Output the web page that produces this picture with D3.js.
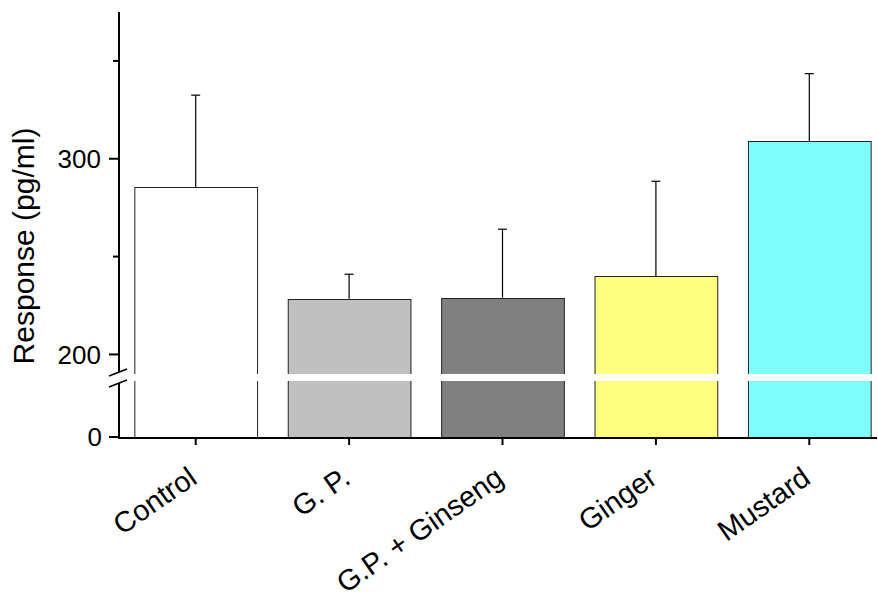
<!DOCTYPE html>
<html>
<head>
<meta charset="utf-8">
<script src="https://cdn.jsdelivr.net/npm/d3@7"></script>
<style>
  body { margin: 0; background: #fff; }
  text { font-family: Arial, "Liberation Sans", sans-serif; fill: #000; }
</style>
</head>
<body>
<svg id="chart" width="878" height="601"></svg>
<script>
// data
var groups = ["Control", "G. P.", "G.P. + Ginseng", "Ginger", "Mustard"];
var means  = [285.5, 228.5, 229, 240, 309];
var errs   = [47, 12.5, 35, 48.5, 34.5];
var fills  = ["#ffffff", "#c0c0c0", "#808080", "#ffff80", "#80ffff"];
var upperTicks = [200, 300];
var minorTicks = [250, 350];
var lowerTicks = [0];

var svg = d3.select("#chart");

var x0 = 119, baseY = 437, breakTop = 374, breakBot = 381;

var x = d3.scaleBand()
    .domain(groups)
    .range([x0, 886])
    .paddingInner(0.2)
    .paddingOuter(0.1);

// broken axis: upper segment and lower segment
var yUp = d3.scaleLinear().domain([190, 375]).range([breakTop, 12]);
var yLo = d3.scaleLinear().domain([0, 15]).range([baseY, breakBot]);

var bars = svg.append("g");

// error bars first (behind bar outline)
bars.selectAll("line.err")
  .data(groups)
  .enter().append("line")
    .attr("x1", function(d){ return x(d) + x.bandwidth()/2; })
    .attr("x2", function(d){ return x(d) + x.bandwidth()/2; })
    .attr("y1", function(d,i){ return yUp(means[i]); })
    .attr("y2", function(d,i){ return yUp(means[i] + errs[i]); })
    .attr("stroke", "#000").attr("stroke-width", 1.2);

bars.selectAll("line.cap")
  .data(groups)
  .enter().append("line")
    .attr("x1", function(d){ return x(d) + x.bandwidth()/2 - 4.5; })
    .attr("x2", function(d){ return x(d) + x.bandwidth()/2 + 4.5; })
    .attr("y1", function(d,i){ return yUp(means[i] + errs[i]); })
    .attr("y2", function(d,i){ return yUp(means[i] + errs[i]); })
    .attr("stroke", "#000").attr("stroke-width", 1.2);

bars.selectAll("rect")
  .data(groups)
  .enter().append("rect")
    .attr("x", function(d){ return x(d) + 0.5; })
    .attr("width", x.bandwidth())
    .attr("y", function(d,i){ return Math.round(yUp(means[i])) + 0.5; })
    .attr("height", function(d,i){ return baseY - Math.round(yUp(means[i])); })
    .attr("fill", function(d,i){ return fills[i]; })
    .attr("stroke", "#222").attr("stroke-width", 1);

// white band at the break
svg.append("rect")
  .attr("x", x0 + 2).attr("y", breakTop)
  .attr("width", 878 - x0).attr("height", breakBot - breakTop)
  .attr("fill", "#fff");

// y axis
var ax = svg.append("g").attr("stroke", "#000");
ax.append("line").attr("x1", x0).attr("x2", x0)
  .attr("y1", yUp.range()[1]).attr("y2", breakTop - 2).attr("stroke-width", 2);
ax.append("line").attr("x1", x0).attr("x2", x0)
  .attr("y1", breakBot + 2).attr("y2", baseY + 1).attr("stroke-width", 2);
// break marks
[breakTop - 3, breakBot + 1].forEach(function(yy){
  ax.append("line")
    .attr("x1", x0 - 10).attr("y1", yy + 5)
    .attr("x2", x0 + 8).attr("y2", yy - 2)
    .attr("stroke-width", 1.6);
});

ax.selectAll("line.maj")
  .data(upperTicks).enter().append("line")
    .attr("x1", x0 - 10).attr("x2", x0)
    .attr("y1", function(d){ return yUp(d); }).attr("y2", function(d){ return yUp(d); })
    .attr("stroke-width", 2);
ax.selectAll("line.min")
  .data(minorTicks).enter().append("line")
    .attr("x1", x0 - 6).attr("x2", x0)
    .attr("y1", function(d){ return yUp(d); }).attr("y2", function(d){ return yUp(d); })
    .attr("stroke-width", 2);
ax.selectAll("line.lo")
  .data(lowerTicks).enter().append("line")
    .attr("x1", x0 - 10).attr("x2", x0)
    .attr("y1", function(d){ return yLo(d); }).attr("y2", function(d){ return yLo(d); })
    .attr("stroke-width", 2);

svg.selectAll("text.ytick")
  .data(upperTicks).enter().append("text")
    .attr("x", x0 - 18).attr("y", function(d){ return yUp(d); })
    .attr("dy", "0.35em").attr("text-anchor", "end")
    .style("font-size", "26px")
    .text(function(d){ return d; });
svg.selectAll("text.ylo")
  .data(lowerTicks).enter().append("text")
    .attr("x", x0 - 17).attr("y", function(d){ return yLo(d); })
    .attr("dy", "0.35em").attr("text-anchor", "end")
    .style("font-size", "26px")
    .text(function(d){ return d; });

svg.append("text")
  .attr("transform", "translate(34,246) rotate(-90)")
  .attr("text-anchor", "middle")
  .style("font-size", "30px")
  .text("Response (pg/ml)");

// x axis
var xa = svg.append("g").attr("stroke", "#000");
xa.append("line").attr("x1", x0 - 1).attr("x2", 877)
  .attr("y1", baseY + 1).attr("y2", baseY + 1).attr("stroke-width", 2);
xa.selectAll("line.xt")
  .data(groups).enter().append("line")
    .attr("x1", function(d){ return x(d) + x.bandwidth()/2; })
    .attr("x2", function(d){ return x(d) + x.bandwidth()/2; })
    .attr("y1", baseY).attr("y2", baseY + 8)
    .attr("stroke-width", 2);

svg.selectAll("text.xl")
  .data(groups).enter().append("text")
    .attr("transform", function(d){
      return "translate(" + (x(d) + x.bandwidth()/2 + 3) + ",482) rotate(-35)";
    })
    .attr("text-anchor", "end")
    .style("font-size", "29px")
    .text(function(d){ return d; });
</script>
</body>
</html>
